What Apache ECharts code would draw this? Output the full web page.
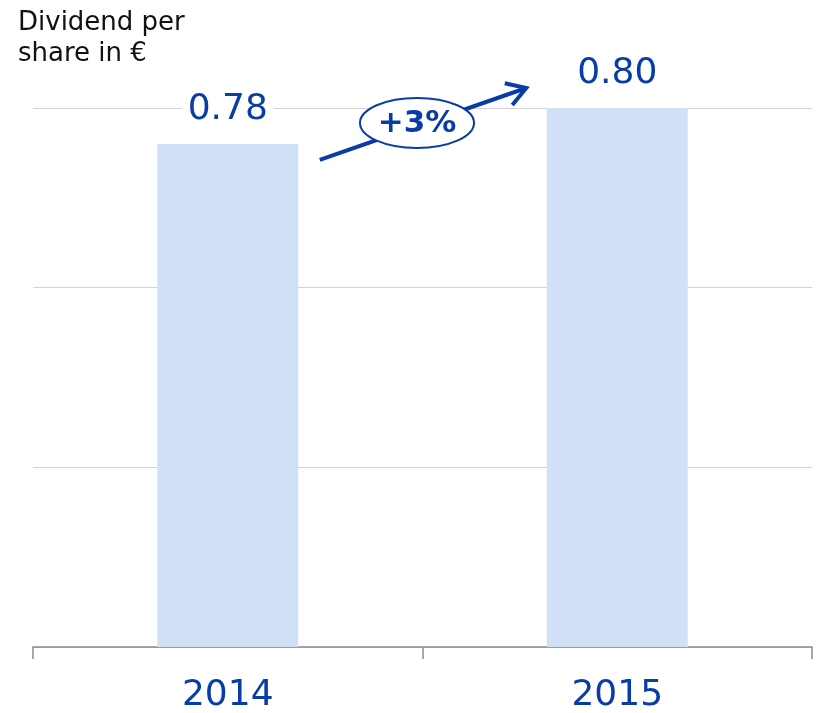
<!DOCTYPE html>
<html lang="en">
<head>
  <meta charset="UTF-8">
  <title>Dividend per share</title>
  <script src="https://cdn.jsdelivr.net/npm/echarts@6/dist/echarts.min.js"></script>
  <style>
    html, body { margin: 0; padding: 0; background: #fff; }
    #chart { width: 817px; height: 713px; }
  </style>
</head>
<body>
  <div id="chart"></div>
  <script>
    // data
    const years = ['2014', '2015'];
    const dividends = [0.78, 0.80];
    const valueLabels = ['0.78', '0.80'];
    const growthLabel = '+3%';

    const blue = '#0a3ca6';
    const chart = echarts.init(document.getElementById('chart'));

    const option = {
      animation: false,
      title: {
        text: 'Dividend per\nshare in €',
        left: 13,
        top: 3,
        textStyle: {
          fontFamily: 'DejaVu Sans',
          fontSize: 26,
          fontWeight: 'normal',
          color: '#111',
          lineHeight: 31
        }
      },
      grid: { left: 33, right: 5, top: 108, bottom: 66, outerBoundsMode: 'none', containLabel: false },
      xAxis: {
        type: 'category',
        data: years,
        axisLine: { lineStyle: { color: '#8c8c8c', width: 1.5 } },
        axisTick: { show: true, alignWithLabel: false, length: 12, lineStyle: { color: '#8c8c8c', width: 1.5 } },
        axisLabel: {
          margin: 31,
          fontSize: 36,
          color: blue,
          fontFamily: 'DejaVu Sans'
        }
      },
      yAxis: {
        type: 'value',
        min: 0.5,
        max: 0.8,
        interval: 0.1,
        axisLabel: { show: false },
        axisLine: { show: false },
        axisTick: { show: false },
        splitLine: { lineStyle: { color: '#d3d3d3', width: 1 } }
      },
      series: [{
        type: 'bar',
        data: dividends,
        barWidth: 141,
        itemStyle: { color: '#d0e1f5' },
        label: {
          show: true,
          position: 'top',
          distance: 14,
          formatter: p => valueLabels[p.dataIndex],
          fontFamily: 'DejaVu Sans',
          fontSize: 36,
          color: blue,
          backgroundColor: '#fff',
          padding: [2, 6]
        }
      }]
    };

    chart.setOption(option);

    // growth arrow, placed relative to the two bars
    function drawArrow() {
      const p0 = chart.convertToPixel({ seriesIndex: 0 }, [0, dividends[0]]);
      const p1 = chart.convertToPixel({ seriesIndex: 0 }, [1, dividends[1]]);
      const x1 = p0[0] + 92, y1 = p0[1] + 16;
      const x2 = p1[0] - 91, y2 = p1[1] - 20;
      const ang = Math.atan2(y2 - y1, x2 - x1);
      const head = 22, spread = 0.55;
      const hA = [x2 - head * Math.cos(ang - spread), y2 - head * Math.sin(ang - spread)];
      const hB = [x2 - head * Math.cos(ang + spread), y2 - head * Math.sin(ang + spread)];
      const cx = (x1 + x2) / 2 - 6, cy = (y1 + y2) / 2 - 1;

      chart.setOption({
        graphic: [
          {
            type: 'line',
            shape: { x1: x1, y1: y1, x2: x2, y2: y2 },
            style: { stroke: blue, lineWidth: 4 }
          },
          {
            type: 'polyline',
            shape: { points: [hA, [x2, y2], hB] },
            style: { stroke: blue, lineWidth: 4, fill: null }
          },
          {
            type: 'ellipse',
            shape: { cx: cx, cy: cy, rx: 57, ry: 25 },
            style: { fill: '#fff', stroke: blue, lineWidth: 2 }
          },
          {
            type: 'text',
            x: cx,
            y: cy + 1,
            style: {
              text: growthLabel,
              fill: blue,
              font: 'bold 31px "DejaVu Sans"',
              align: 'center',
              verticalAlign: 'middle'
            }
          }
        ]
      });
    }
    drawArrow();
  </script>
</body>
</html>
